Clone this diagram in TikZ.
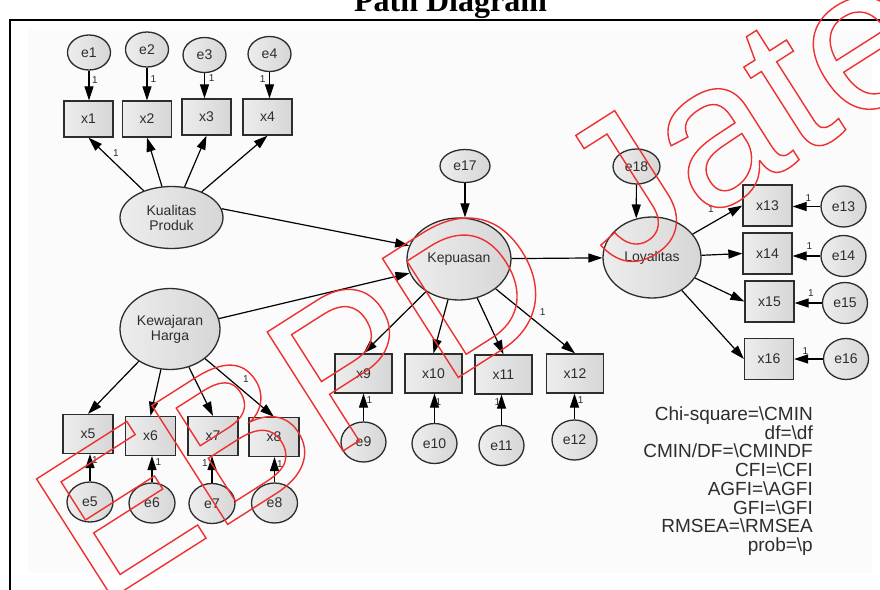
\documentclass[tikz,border=0pt]{standalone}
\usepackage{fontspec}
\setmainfont{Liberation Sans}
\newfontfamily\titlefont{Liberation Serif}
\usetikzlibrary{arrows.meta,shapes.geometric}

\definecolor{panel}{RGB}{251,251,251}
\definecolor{edge}{RGB}{45,45,45}
\definecolor{ink}{RGB}{45,45,45}
\definecolor{stamp}{RGB}{238,48,48}
\newcommand\setfs[2]{\fontsize{#1}{#2}\selectfont}
% glyphs stroked only (text rendering mode 1)
\newcommand\outlined[1]{\special{pdf:literal direct 1 Tr 1.4 w}#1\special{pdf:literal direct 0 Tr}}

\tikzset{
  amosfill/.style={draw=edge, line width=1.3pt, left color=black!7, right color=black!16,
                   text=ink, inner sep=0pt},
  latent/.style={amosfill, ellipse, align=center, font=\setfs{14}{15}},
  errv/.style={amosfill, ellipse, font=\setfs{14}{15}},
  ind/.style={amosfill, rectangle, font=\setfs{14}{15}},
  conn/.style={line width=1.2pt, draw=black, -{Triangle[length=14pt,width=9pt]}},
  one/.style={font=\setfs{10}{10}, text=ink, inner sep=0pt},
  statline/.style={font=\setfs{19}{19}, text=ink, anchor=base east, inner sep=0pt},
  errA/.style={errv, minimum width=43pt, minimum height=35pt},
  errB/.style={errv, minimum width=46pt, minimum height=40pt},
  errC/.style={errv, minimum width=45pt, minimum height=40pt},
  boxA/.style={ind, minimum width=49pt, minimum height=36pt},
  boxB/.style={ind, minimum width=50pt, minimum height=39pt},
  boxC/.style={ind, minimum width=57pt, minimum height=39pt},
  boxD/.style={ind, minimum width=49pt, minimum height=41pt},
}

\begin{document}
\begin{tikzpicture}[x=1pt,y=-1pt]
\useasboundingbox (0,0) rectangle (880,589);

% heading and frame
\node[font=\titlefont\bfseries\setfs{32}{32}, anchor=base, inner sep=0pt] (title) at (450.5,12) {Path Diagram};
\fill[panel] (28,30) rectangle (872,573);
\draw[line width=1.8pt] (10,620) -- (10,20) -- (900,20);

% latent variables
\node[latent, minimum width=103pt, minimum height=62pt] (kual) at (171.5,217.5) {Kualitas\\Produk};
\node[latent, minimum width=100pt, minimum height=81pt] (kew) at (170,329) {Kewajaran\\Harga};
\node[latent, minimum width=104pt, minimum height=82pt] (kep) at (459,259) {Kepuasan};
\node[latent, minimum width=98pt, minimum height=81pt] (loy) at (652,257.5) {Loyalitas};
\node[errv, minimum width=50pt, minimum height=33pt] (e17) at (465,166) {e17};
\node[errv, minimum width=47pt, minimum height=35pt] (e18) at (636.5,166.5) {e18};

% Kualitas Produk indicators
\node[errA] (e1) at (89,52.5) {e1};
\node[errA] (e2) at (147,49.5) {e2};
\node[errA] (e3) at (204.5,55) {e3};
\node[errA] (e4) at (269.5,54) {e4};
\node[boxA] (x1) at (88.5,119) {x1};
\node[boxA] (x2) at (147,119) {x2};
\node[boxA] (x3) at (206.5,117) {x3};
\node[boxA] (x4) at (267.5,117) {x4};

% Kewajaran Harga indicators
\node[boxB] (x5) at (88,434) {x5};
\node[boxB] (x6) at (150.5,436) {x6};
\node[boxB] (x7) at (213,436) {x7};
\node[boxB] (x8) at (274,437) {x8};
\node[errB] (e5) at (90,502) {e5};
\node[errB] (e6) at (152,503) {e6};
\node[errB] (e7) at (212,503.5) {e7};
\node[errB] (e8) at (274.5,503) {e8};

% Kepuasan indicators
\node[boxC] (x9) at (363.5,373.5) {x9};
\node[boxC] (x10) at (433.5,373.5) {x10};
\node[boxC] (x11) at (503.5,374.5) {x11};
\node[boxC] (x12) at (575,373.5) {x12};
\node[errC] (e9) at (363.5,442) {e9};
\node[errC] (e10) at (434.5,443.5) {e10};
\node[errC] (e11) at (501.5,445.5) {e11};
\node[errC] (e12) at (574.5,440) {e12};

% Loyalitas indicators
\node[boxD] (x13) at (767.5,205.5) {x13};
\node[boxD] (x14) at (767.5,253.5) {x14};
\node[boxD] (x15) at (769.5,301.5) {x15};
\node[boxD] (x16) at (769,359) {x16};
\node[errC, minimum height=41pt] (e13) at (843.5,206.5) {e13};
\node[errC, minimum height=41pt] (e14) at (843.5,256) {e14};
\node[errC, minimum height=41pt] (e15) at (845,303) {e15};
\node[errC, minimum height=41pt] (e16) at (846,359) {e16};

% structural paths
\draw[conn] (kual.10) -- (kep.165);
\draw[conn] (kew.12) -- (kep.196);
\draw[conn] (kep) -- (loy);
\draw[conn] (e17) -- (e17 |- kep.north);
\draw[conn] (e18) -- (loy.112);

% loadings
\foreach \i in {1,2,3,4} \draw[conn] (kual) -- (x\i.south);
\foreach \i in {5,6,7,8} \draw[conn] (kew) -- (x\i.north);
\foreach \i in {9,10,11,12} \draw[conn] (kep) -- (x\i.north);
\foreach \i in {13,14,15,16} \draw[conn] (loy) -- (x\i.west);

% measurement errors
\foreach \i in {1,2,3,4} \draw[conn] (e\i) -- (e\i |- x\i.north);
\foreach \i in {5,6,7,8,9,10,11,12} \draw[conn] (e\i) -- (e\i |- x\i.south);
\foreach \i in {13,14,15,16} \draw[conn] (e\i) -- (e\i -| x\i.east);

% fixed parameters
\node[one] (f1) at (95,80) {1};
\node[one] (f2) at (153.3,79.3) {1};
\node[one] (f3) at (211.7,78.3) {1};
\node[one] (f4) at (262.7,79.3) {1};
\node[one] (fk) at (116,152.7) {1};
\node[one] (f5) at (95,460) {1};
\node[one] (f6) at (158.3,461.7) {1};
\node[one] (f7) at (205,462.7) {1};
\node[one] (f8) at (280,464) {1};
\node[one] (fw) at (246,379.3) {1};
\node[one] (f9) at (369.3,400) {1};
\node[one] (f10) at (438.3,401.7) {1};
\node[one] (f11) at (497.3,401.7) {1};
\node[one] (f12) at (580.7,400) {1};
\node[one] (fp) at (542.7,311.7) {1};
\node[one] (fl) at (711,209) {1};
\node[one] (f13) at (808.3,198.3) {1};
\node[one] (f14) at (809.3,246) {1};
\node[one] (f15) at (811,293.3) {1};
\node[one] (f16) at (805.3,350.7) {1};

% fit summary
\node[statline] (s1) at (813,420.5) {Chi-square=\textbackslash CMIN};
\node[statline] (s2) at (813,439.2) {df=\textbackslash df};
\node[statline] (s3) at (813,457.9) {CMIN/DF=\textbackslash CMINDF};
\node[statline] (s4) at (813,476.6) {CFI=\textbackslash CFI};
\node[statline] (s5) at (813,495.3) {AGFI=\textbackslash AGFI};
\node[statline] (s6) at (813,514.0) {GFI=\textbackslash GFI};
\node[statline] (s7) at (813,532.7) {RMSEA=\textbackslash RMSEA};
\node[statline] (s8) at (813,551.4) {prob=\textbackslash p};

% stamp across the sheet
\node[anchor=base west, rotate=32.5, inner sep=0pt, text=stamp, font=\setfs{205}{205}] (stampmark) at (98,607) {\outlined{EBPD Jateng}};
\end{tikzpicture}
\end{document}
